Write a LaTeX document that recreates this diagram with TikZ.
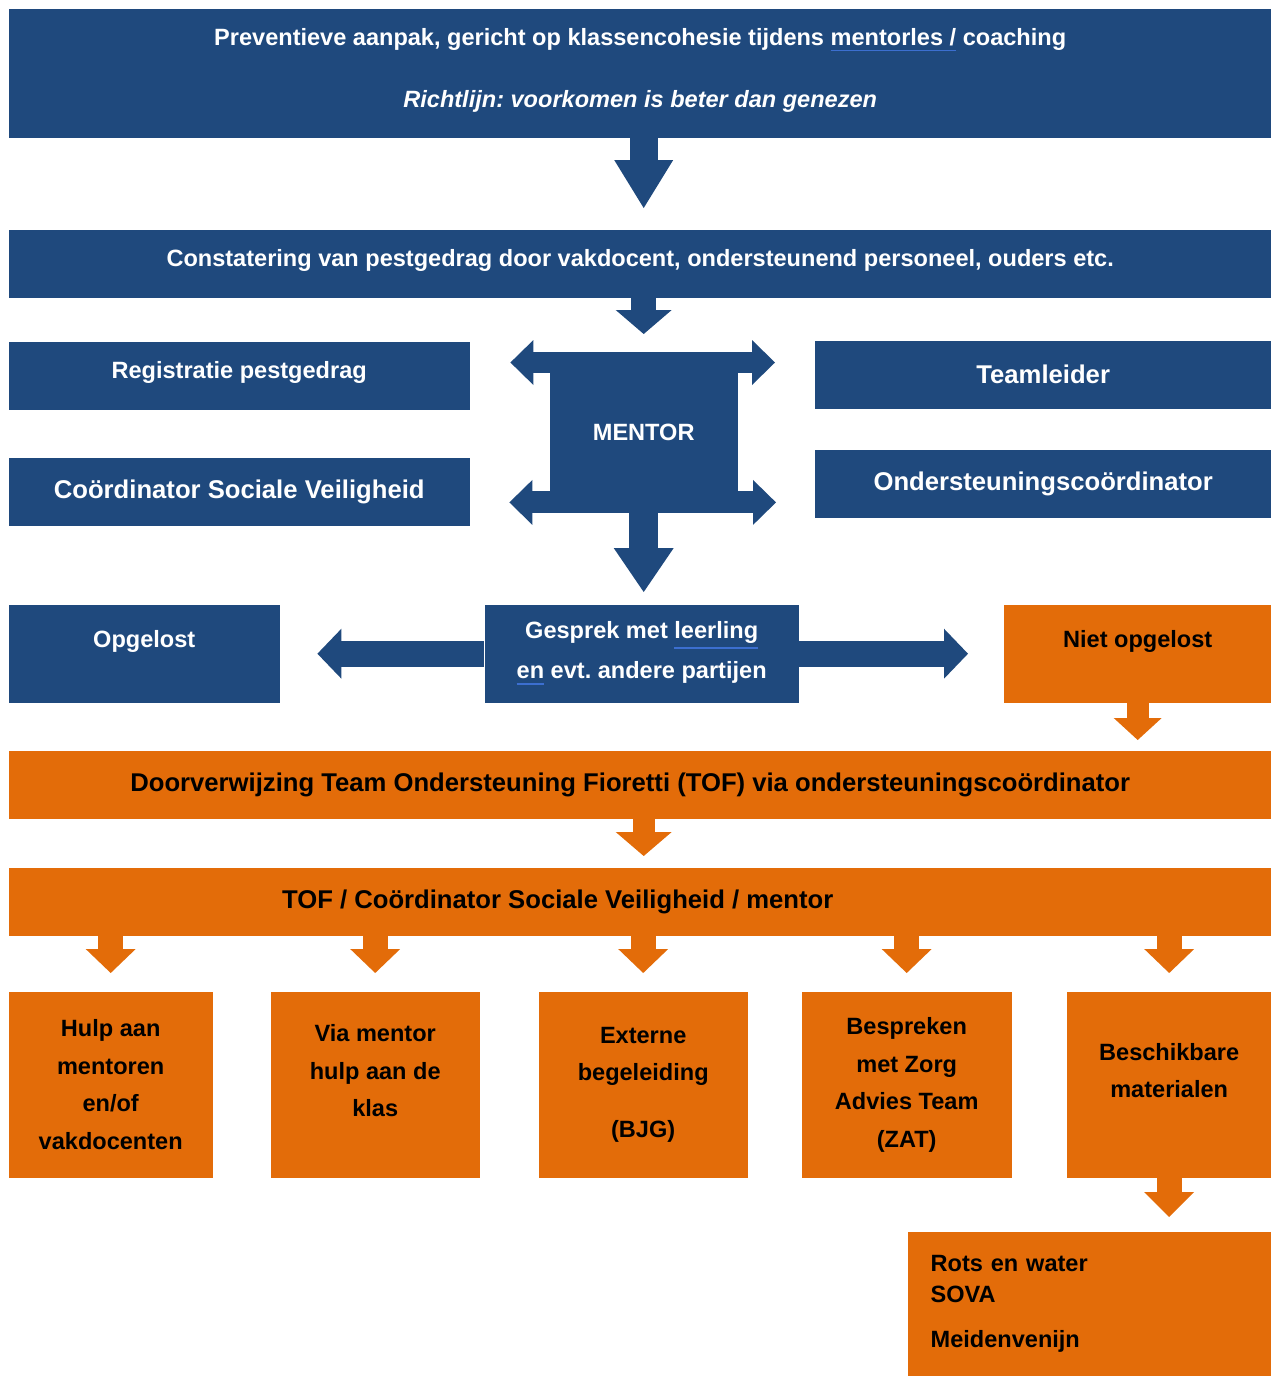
\documentclass[tikz,border=0pt]{standalone}
\usepackage{fontspec}
\setmainfont{Liberation Sans}
\usepackage{xcolor}
\usetikzlibrary{arrows.meta, positioning}
\frenchspacing
\definecolor{blauwF}{HTML}{1F497D}
\definecolor{oranjeF}{HTML}{E36C09}
\definecolor{spelF}{HTML}{3C6FD0}
\newcommand{\kleinF}{\fontsize{6.7}{8.2}\selectfont\bfseries}
\newcommand{\grootF}{\fontsize{7.3}{8.8}\selectfont\bfseries}
\newcommand{\vakF}{\fontsize{6.7}{10.7}\selectfont\bfseries}
\newcommand{\restF}{\fontsize{6.7}{8.8}\selectfont\bfseries}
\newcommand{\spel}[1]{{\color{spelF}\underline{\color{white}#1}}}

\tikzset{
    blauwvak/.style={fill=blauwF, text=white, inner sep=0pt, align=center, anchor=north west, font=\kleinF},
    oranjevak/.style={fill=oranjeF, text=black, inner sep=0pt, align=center, anchor=north west, font=\kleinF},
    pijl/.style n args={4}{draw=#1, line width=#2, -{Triangle[width=#3, length=#4, line width=0pt]}},
    dubbelpijl/.style n args={4}{draw=#1, line width=#2, {Triangle[width=#3, length=#4, line width=0pt]}-{Triangle[width=#3, length=#4, line width=0pt]}}
}

\begin{document}
\begin{tikzpicture}
    \useasboundingbox (0,0) rectangle (12.71,-13.76);

    % bovenste balken
    \node[blauwvak, minimum width=12.63cm, minimum height=1.29cm] (top) at (0.08,-0.08) {
        Preventieve aanpak, gericht op klassencohesie tijdens \spel{mentorles /} coaching \\[9.4pt]
        \textit{Richtlijn: voorkomen is beter dan genezen} \\[-5pt] \mbox{}
    };
    \node[blauwvak, minimum width=12.63cm, minimum height=0.68cm] (cons) at (0.08,-2.29) {Constatering van pestgedrag door vakdocent, ondersteunend personeel, ouders etc. \\[-5pt] \mbox{}};

    % mentor en partijen eromheen
    \node[blauwvak, minimum width=1.88cm, minimum height=1.60cm] (mentor) at (5.49,-3.52) {MENTOR};
    \node[blauwvak, minimum width=4.61cm, minimum height=0.68cm] (reg) at (0.08,-3.41) {Registratie pestgedrag \\[-5pt] \mbox{}};
    \node[blauwvak, minimum width=4.61cm, minimum height=0.68cm, font=\grootF] (cso) at (0.08,-4.57) {Coördinator Sociale Veiligheid};
    \node[blauwvak, minimum width=4.57cm, minimum height=0.68cm, font=\grootF] (team) at (8.14,-3.40) {Teamleider};
    \node[blauwvak, minimum width=4.57cm, minimum height=0.68cm, font=\grootF] (onder) at (8.14,-4.49) {Ondersteuningscoördinator};

    % gesprek
    \node[blauwvak, minimum width=2.71cm, minimum height=0.98cm] (opgelost) at (0.08,-6.04) {Opgelost \\ \mbox{}};
    \node[blauwvak, minimum width=3.14cm, minimum height=0.98cm] (gesprek) at (4.84,-6.04) {Gesprek met \spel{leerling} \\[2.3pt] \spel{en} evt. andere partijen};
    \node[oranjevak, minimum width=2.68cm, minimum height=0.98cm] (niet) at (10.03,-6.04) {Niet opgelost \\ \mbox{}};

    % doorverwijzing
    \node[oranjevak, minimum width=12.63cm, minimum height=0.68cm, font=\grootF] (doorv) at (0.08,-7.50) {Doorverwijzing Team Ondersteuning Fioretti (TOF) via ondersteuningscoördinator\hspace*{0.2cm}};
    \node[oranjevak, minimum width=12.63cm, minimum height=0.68cm, font=\grootF] (tof) at (0.08,-8.67) {TOF / Coördinator Sociale Veiligheid / mentor\hspace*{1.65cm}};

    % mogelijkheden
    \node[oranjevak, minimum width=2.04cm, minimum height=1.86cm, font=\vakF] (b1) at (0.08,-9.91) {Hulp aan \\ mentoren \\ en/of \\ vakdocenten};
    \node[oranjevak, minimum width=2.09cm, minimum height=1.86cm, font=\vakF] (b2) at (2.70,-9.91) {Via mentor \\ hulp aan de \\ klas \\[-2.7pt] \mbox{}};
    \node[oranjevak, minimum width=2.09cm, minimum height=1.86cm, font=\vakF] (b3) at (5.38,-9.91) {Externe \\ begeleiding \\[5.5pt] (BJG)};
    \node[oranjevak, minimum width=2.10cm, minimum height=1.86cm, font=\vakF] (b4) at (8.01,-9.91) {Bespreken \\ met Zorg \\ Advies Team \\ (ZAT)};
    \node[oranjevak, minimum width=2.05cm, minimum height=1.86cm, font=\vakF] (b5) at (10.66,-9.91) {Beschikbare \\ materialen \\[-2.7pt] \mbox{}};
    \node[oranjevak, minimum width=3.64cm, minimum height=1.45cm, align=left, text width=3.18cm, font=\restF] (rest) at (9.07,-12.31) {Rots en water \\ SOVA \\[4pt] Meidenvenijn};

    % pijlen
    \draw[pijl={blauwF}{2.8mm}{5.9mm}{4.8mm}, shorten >=2.1mm] (top.south -| mentor) -- (cons.north -| mentor);
    \draw[pijl={blauwF}{2.5mm}{5.6mm}{2.4mm}, shorten >=1.8mm] (cons.south -| mentor) -- (mentor.north);
    \coordinate (mboven) at ([yshift=-1.05mm]mentor.north);
    \coordinate (monder) at ([yshift=1.1mm]mentor.south);
    \draw[dubbelpijl={blauwF}{2.1mm}{4.5mm}{2.3mm}, shorten <=4mm, shorten >=3.9mm] (mboven -| reg.east) -- (mboven -| team.west);
    \draw[dubbelpijl={blauwF}{2.2mm}{4.5mm}{2.3mm}, shorten <=3.9mm, shorten >=3.8mm] (monder -| cso.east) -- (monder -| onder.west);
    \draw[pijl={blauwF}{2.9mm}{6.0mm}{4.4mm}, shorten >=1.2mm] (mentor.south) -- (gesprek.north -| mentor);
    \draw[pijl={blauwF}{2.6mm}{5.0mm}{2.4mm}, shorten >=3.7mm] (gesprek.west) -- (opgelost.east);
    \draw[pijl={blauwF}{2.6mm}{5.0mm}{2.4mm}, shorten >=3.5mm] (gesprek.east) -- (niet.west);
    \draw[pijl={oranjeF}{2.2mm}{4.8mm}{2.2mm}, shorten >=1mm] (niet.south) -- (niet.south |- doorv.north);
    \draw[pijl={oranjeF}{2.2mm}{5.6mm}{2.4mm}, shorten >=1.1mm] (doorv.south -| mentor) -- (tof.north -| mentor);
    \foreach \vak in {b1,b2,b3,b4,b5}
        \draw[pijl={oranjeF}{2.5mm}{5.0mm}{2.4mm}, shorten >=1.8mm] (tof.south -| \vak.north) -- (\vak.north);
    \draw[pijl={oranjeF}{2.5mm}{5.0mm}{2.5mm}, shorten >=1.4mm] (b5.south) -- (b5.south |- rest.north);
\end{tikzpicture}
\end{document}
